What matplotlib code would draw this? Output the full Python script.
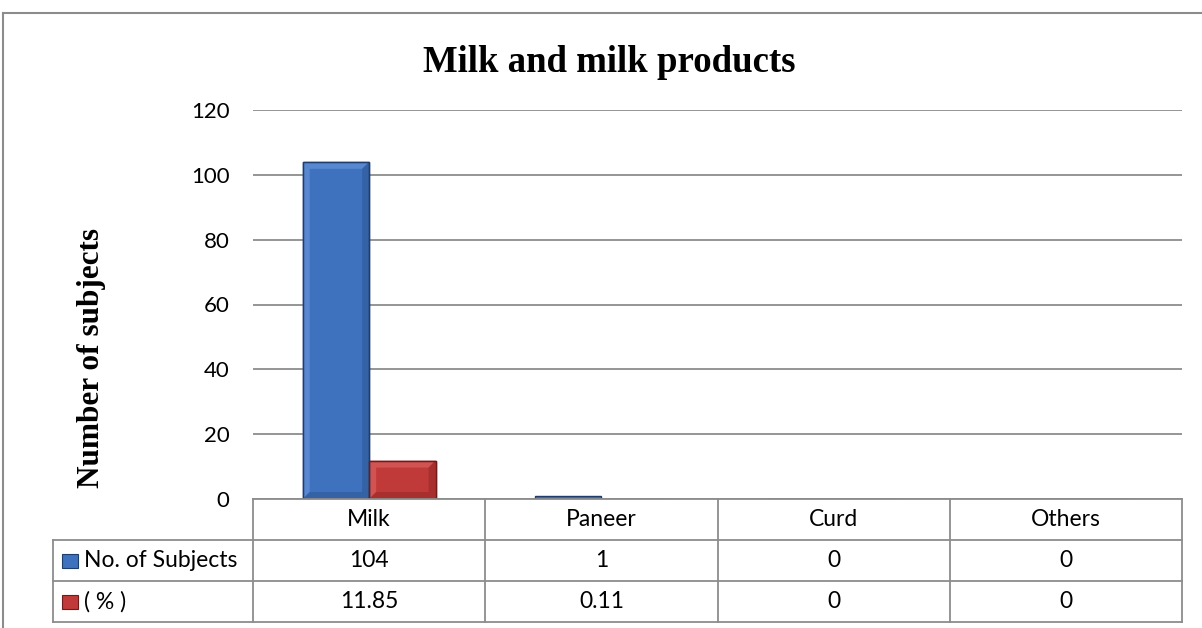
"""Grouped bar chart of milk product consumption with a data table underneath."""

import matplotlib

matplotlib.use("Agg")
import matplotlib.pyplot as plt
from matplotlib.lines import Line2D
from matplotlib.patches import Polygon, Rectangle

categories = ["Milk", "Paneer", "Curd", "Others"]
subjects = [104, 1, 0, 0]
percent = [11.85, 0.11, 0, 0]
subjects_labels = ["104", "1", "0", "0"]
percent_labels = ["11.85", "0.11", "0", "0"]
series_names = ["No. of Subjects", "( % )"]
yticks = [0, 20, 40, 60, 80, 100, 120]

W, H = 1202, 628
GRID = "#8c8c8c"
SANS = ["Lato", "DejaVu Sans"]
SERIF = ["Liberation Serif", "DejaVu Serif"]
# body, light bevel, dark bevel, outline
BLUE = ("#3e72bf", "#6c9be0", "#2c5590", "#1f3d6b")
RED = ("#c03a39", "#e06a68", "#932726", "#6e1c1b")

fig = plt.figure(figsize=(W / 100, H / 100), dpi=100)


def fx(px):
    return px / W


def fy(py):
    return 1 - py / H


# plot area in pixel terms
left, right, top, bottom = 253, 1182, 110, 499
ax = fig.add_axes([fx(left), fy(bottom), fx(right - left), fy(top) - fy(bottom)])

n = len(categories)
bar_w = 0.286
ymax = 120
px_x = (right - left) / n          # pixels per category unit
px_y = (bottom - top) / ymax       # pixels per value unit
bev = 7                            # bevel size in pixels


def bevel_bar(x0, h, colors):
    body, light, dark, edge = colors
    ax.bar(x0, h, width=bar_w, align="edge", color=body, edgecolor=edge,
           linewidth=1.0, zorder=3)
    if h * px_y < 3 * bev:
        return
    dx, dy = bev / px_x, bev / px_y
    x1 = x0 + bar_w
    faces = [
        ([(x0, h), (x1, h), (x1 - dx, h - dy), (x0 + dx, h - dy)], light),
        ([(x0, 0), (x0, h), (x0 + dx, h - dy), (x0 + dx, dy)], light),
        ([(x1, 0), (x1, h), (x1 - dx, h - dy), (x1 - dx, dy)], dark),
        ([(x0, 0), (x1, 0), (x1 - dx, dy), (x0 + dx, dy)], dark),
    ]
    for pts, c in faces:
        ax.add_patch(Polygon(pts, closed=True, facecolor=c, edgecolor="none",
                             alpha=0.55, zorder=4))
    ax.add_patch(Rectangle((x0, 0), bar_w, h, facecolor="none", edgecolor=edge,
                           linewidth=1.0, zorder=5))


for i in range(n):
    bevel_bar(i - bar_w, subjects[i], BLUE)
    bevel_bar(i, percent[i], RED)

ax.set_xlim(-0.5, n - 0.5)
ax.set_ylim(0, ymax)
ax.set_yticks(yticks)
ax.set_yticklabels([str(t) for t in yticks], fontsize=16, family=SANS)
ax.tick_params(axis="y", length=0, pad=17)
ax.set_xticks([])
ax.yaxis.grid(True, color=GRID, linewidth=1.3, zorder=0)
for side in ["top", "right", "left"]:
    ax.spines[side].set_visible(False)
ax.spines["bottom"].set_color(GRID)
ax.spines["bottom"].set_linewidth(1.3)
ax.spines["bottom"].set_zorder(6)

# title and axis label
fig.text(fx(609), fy(62), "Milk and milk products", ha="center", va="center",
         fontsize=26.5, fontweight="bold", family=SERIF)
fig.text(fx(92), fy(358), "Number of subjects", ha="center", va="center",
         rotation=90, fontsize=22.5, fontweight="bold", family=SERIF)

# data table under the axis
col_edges = [left + (right - left) * k / n for k in range(n + 1)]
row_edges = [499, 540, 581, 622]
label_left = 53


def hline(x0, x1, y):
    fig.add_artist(Line2D([fx(x0), fx(x1)], [fy(y), fy(y)], color=GRID, lw=1.3))


def vline(x, y0, y1):
    fig.add_artist(Line2D([fx(x), fx(x)], [fy(y0), fy(y1)], color=GRID, lw=1.3))


for x in col_edges:
    vline(x, row_edges[0], row_edges[-1])
vline(label_left, row_edges[1], row_edges[-1])
for y in row_edges[1:]:
    hline(label_left, right, y)

for k, cat in enumerate(categories):
    cx = (col_edges[k] + col_edges[k + 1]) / 2
    fig.text(fx(cx), fy((row_edges[0] + row_edges[1]) / 2), cat,
             ha="center", va="center", fontsize=16.5, family=SANS)
    fig.text(fx(cx), fy((row_edges[1] + row_edges[2]) / 2), subjects_labels[k],
             ha="center", va="center", fontsize=16.5, family=SANS)
    fig.text(fx(cx), fy((row_edges[2] + row_edges[3]) / 2), percent_labels[k],
             ha="center", va="center", fontsize=16.5, family=SANS)

for r, (name, colors) in enumerate(zip(series_names, [BLUE, RED])):
    cy = (row_edges[r + 1] + row_edges[r + 2]) / 2
    fig.add_artist(Rectangle((fx(62), fy(cy + 7)), fx(16), fy(cy - 7) - fy(cy + 7),
                             facecolor=colors[0], edgecolor=colors[3], lw=0.8))
    fig.text(fx(84), fy(cy), name, ha="left", va="center", fontsize=16.5, family=SANS)

# outer chart frame
fig.add_artist(Line2D([fx(3), fx(1202)], [fy(13), fy(13)], color=GRID, lw=1.5))
fig.add_artist(Line2D([fx(3), fx(3)], [fy(13), fy(628)], color=GRID, lw=1.5))

fig.savefig("out.png", dpi=100)
